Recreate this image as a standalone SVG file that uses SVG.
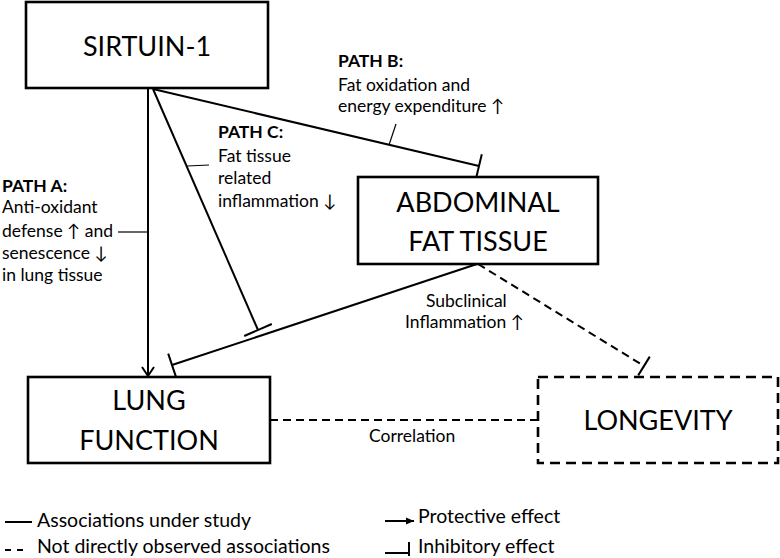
<svg xmlns="http://www.w3.org/2000/svg" width="780" height="558" viewBox="0 0 780 558">
<style>
text{font-family:Lato,"Liberation Sans",Arial,sans-serif;fill:#000}
.big{font-size:27px;text-anchor:middle}
.sm{font-size:17.5px}
.b{font-weight:bold}
.lg{font-size:19.5px}
.box{fill:#fff;stroke:#000;stroke-width:2.6}
.dbox{fill:#fff;stroke:#000;stroke-width:2.6;stroke-dasharray:10 6}
.ln{stroke:#000;stroke-width:2;fill:none}
.dl{stroke:#000;stroke-width:2;fill:none;stroke-dasharray:8 5}
.ld{stroke:#000;stroke-width:1.2;fill:none}
</style>
<defs>
<marker id="arrOpen" markerWidth="14" markerHeight="14" refX="10" refY="7" orient="auto" markerUnits="userSpaceOnUse">
<path d="M1,1 L10,7 L1,13" fill="none" stroke="#000" stroke-width="2"/>
</marker>
<marker id="arrFill" markerWidth="10" markerHeight="10" refX="8" refY="5" orient="auto" markerUnits="userSpaceOnUse">
<path d="M0,1.5 L8,5 L0,8.5 Z" fill="#000"/>
</marker>
</defs>
<rect width="780" height="558" fill="#fff"/>

<g id="connectors">
<line class="ln" x1="148" y1="89" x2="148" y2="376" marker-end="url(#arrOpen)"/>
<line class="ln" x1="153" y1="89" x2="258" y2="330"/>
<line class="ln" x1="271.8" y1="324" x2="244.2" y2="336"/>
<line class="ln" x1="153" y1="89" x2="479" y2="166"/>
<line class="ln" x1="481.8" y1="154.3" x2="476.2" y2="177.7"/>
<line class="ln" x1="477" y1="264" x2="172" y2="365"/>
<line class="ln" x1="175.8" y1="376.4" x2="168.2" y2="353.6"/>
<line class="dl" x1="478" y1="264" x2="644" y2="366"/>
<line class="ln" x1="638.2" y1="375.4" x2="649.8" y2="356.6"/>
<line class="dl" x1="270" y1="420" x2="538" y2="420"/>
<line class="ld" x1="118" y1="232" x2="148" y2="232"/>
<line class="ld" x1="187" y1="166" x2="209" y2="165"/>
<line class="ld" x1="389" y1="145" x2="396" y2="124"/>
</g>

<g id="sirtuin">
<rect class="box" x="26" y="2" width="242" height="86"/>
<text class="big" x="147" y="56">SIRTUIN-1</text>
</g>
<g id="abdominal">
<rect class="box" x="358" y="177" width="240" height="87"/>
<text class="big" x="478" y="212">ABDOMINAL</text>
<text class="big" x="478" y="251">FAT TISSUE</text>
</g>
<g id="lung">
<rect class="box" x="28" y="377" width="242" height="86"/>
<text class="big" x="149" y="410">LUNG</text>
<text class="big" x="149" y="450">FUNCTION</text>
</g>
<g id="longevity">
<rect class="dbox" x="538" y="377" width="240" height="86"/>
<text class="big" x="658" y="430">LONGEVITY</text>
</g>

<g id="label-path-a">
<text class="sm b" x="2" y="192">PATH A:</text>
<text class="sm" x="2" y="213">Anti-oxidant</text>
<text class="sm" x="2" y="237">defense ↑ and</text>
<text class="sm" x="2" y="259">senescence ↓</text>
<text class="sm" x="2" y="281">in lung tissue</text>
</g>
<g id="label-path-b">
<text class="sm b" x="338" y="67">PATH B:</text>
<text class="sm" x="338" y="91">Fat oxidation and</text>
<text class="sm" x="338" y="112">energy expenditure ↑</text>
</g>
<g id="label-path-c">
<text class="sm b" x="218" y="138">PATH C:</text>
<text class="sm" x="218" y="162">Fat tissue</text>
<text class="sm" x="218" y="184">related</text>
<text class="sm" x="218" y="207">inflammation ↓</text>
</g>
<g id="label-subclinical">
<text class="sm" x="426" y="307">Subclinical</text>
<text class="sm" x="405" y="328">Inflammation ↑</text>
</g>
<g id="label-correlation">
<text class="sm" x="369" y="442">Correlation</text>
</g>

<g id="legend">
<line class="ln" x1="5" y1="522" x2="32" y2="522"/>
<text class="lg" x="37" y="527">Associations under study</text>
<line class="ln" x1="5" y1="550" x2="11" y2="550"/>
<line class="ln" x1="17" y1="550" x2="23" y2="550"/>
<text class="lg" x="37" y="553">Not directly observed associations</text>
<line class="ln" x1="385" y1="521" x2="414" y2="521" marker-end="url(#arrFill)"/>
<text class="lg" x="418" y="523">Protective effect</text>
<line class="ln" x1="385" y1="553" x2="409" y2="553"/>
<line class="ln" x1="409" y1="542" x2="409" y2="556"/>
<text class="lg" x="418" y="553">Inhibitory effect</text>
</g>
</svg>
